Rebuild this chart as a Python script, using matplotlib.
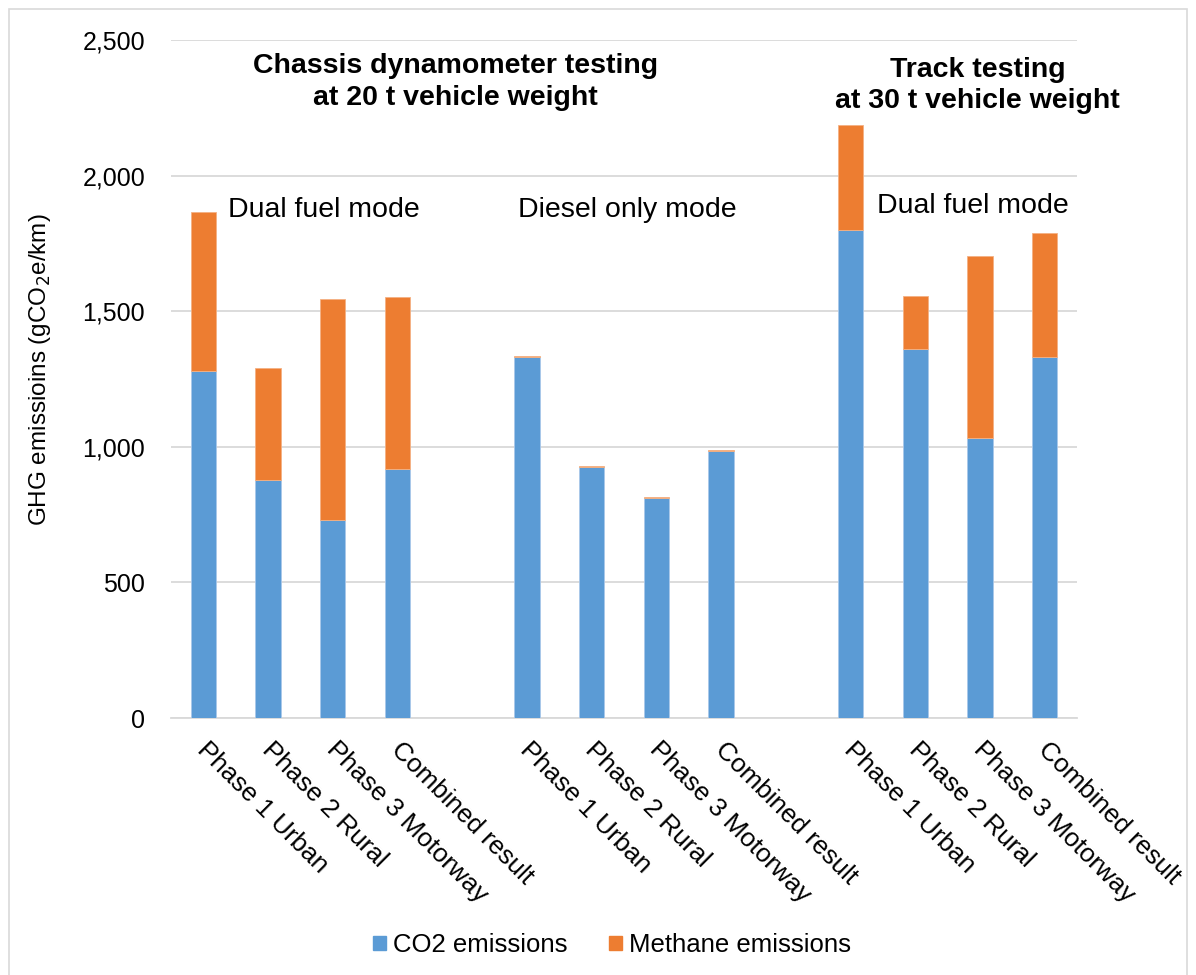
import matplotlib.pyplot as plt
import matplotlib.patches as mpatches
import matplotlib.transforms as mtransforms
import numpy as np

plt.rcParams['font.family'] = ['Liberation Sans', 'DejaVu Sans']

# categories (blank slots separate the three test groups)
labels = ['Phase 1 Urban', 'Phase 2 Rural', 'Phase 3 Motorway', 'Combined result', '',
          'Phase 1 Urban', 'Phase 2 Rural', 'Phase 3 Motorway', 'Combined result', '',
          'Phase 1 Urban', 'Phase 2 Rural', 'Phase 3 Motorway', 'Combined result']
co2 = [1281, 876, 730, 917, 0,
       1330, 927, 813, 984, 0,
       1800, 1359, 1034, 1330]
methane = [584, 413, 815, 636, 0,
           4, 3, 2, 3, 0,
           385, 197, 671, 460]

blue = '#5b9bd5'
orange = '#ed7d31'

fig = plt.figure(figsize=(11.96, 9.75), dpi=100)
ax = fig.add_axes([171/1196, 1-718/975, (1077-171)/1196, (718-40)/975])

x = np.arange(len(labels))
ax.bar(x, co2, width=0.39, color=blue, edgecolor='#a9c8ea', linewidth=0.6, zorder=3,
       label='CO2 emissions')
ax.bar(x, methane, width=0.39, bottom=co2, color=orange, edgecolor='#f4b183', linewidth=0.6,
       zorder=3, label='Methane emissions')

ax.set_xlim(-0.5, len(labels)-0.5)
ax.set_ylim(0, 2500)
ax.set_yticks([0, 500, 1000, 1500, 2000, 2500])
ax.set_yticklabels(['0', '500', '1,000', '1,500', '2,000', '2,500'], fontsize=18)
ax.yaxis.grid(True, color='#d9d9d9', linewidth=1.3, zorder=0)
ax.tick_params(axis='y', length=0, pad=18.7)
ax.tick_params(axis='x', length=0, pad=14)
for s in ['top', 'right', 'left']:
    ax.spines[s].set_visible(False)
ax.spines['bottom'].set_color('#d9d9d9')
ax.spines['bottom'].set_linewidth(1.3)

ax.set_xticks(x)
ax.set_xticklabels(labels, rotation=-45, ha='left', va='top', rotation_mode='anchor',
                   fontsize=18.8)
shift = mtransforms.ScaledTranslation(6/100, 0, fig.dpi_scale_trans)
for t in ax.get_xticklabels():
    t.set_transform(t.get_transform() + shift)

fig.text(40/1196, 1-370/975, 'GHG emissioins (gCO$_2$e/km)', rotation=90,
         ha='center', va='center', fontsize=17.5)

# group annotations
ax.text(3.89, 2378, 'Chassis dynamometer testing', ha='center', va='baseline',
        fontsize=20.5, fontweight='bold')
ax.text(3.89, 2260, 'at 20 t vehicle weight', ha='center', va='baseline',
        fontsize=20.5, fontweight='bold')
ax.text(11.96, 2365, 'Track testing', ha='center', va='baseline',
        fontsize=20.5, fontweight='bold')
ax.text(11.96, 2248, 'at 30 t vehicle weight', ha='center', va='baseline',
        fontsize=20.5, fontweight='bold')
ax.text(0.38, 1846, 'Dual fuel mode', ha='left', va='baseline', fontsize=20.5)
ax.text(4.86, 1847, 'Diesel only mode', ha='left', va='baseline', fontsize=20.5)
ax.text(10.41, 1863, 'Dual fuel mode', ha='left', va='baseline', fontsize=20.5)

handles = [mpatches.Patch(color=blue, label='CO2 emissions'),
           mpatches.Patch(color=orange, label='Methane emissions')]
fig.legend(handles=handles, loc='center', bbox_to_anchor=(612/1196, 1-945/975), ncol=2,
           frameon=False, fontsize=18.5, handlelength=0.5, handleheight=0.5,
           handletextpad=0.27, columnspacing=1.6)

# chart area border
fig.patches.append(mpatches.Rectangle((9/1196, -0.01), (1187-9)/1196, 1-9/975+0.01,
                                      transform=fig.transFigure, fill=False,
                                      edgecolor='#d9d9d9', linewidth=1.2))

fig.savefig('out.png', dpi=100)
